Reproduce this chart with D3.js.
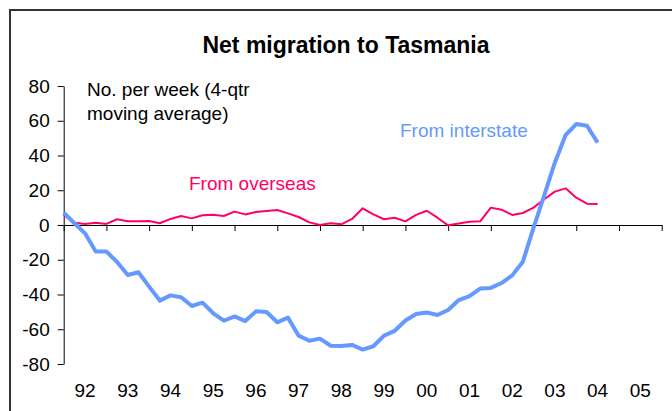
<!DOCTYPE html>
<html>
<head>
<meta charset="utf-8">
<script src="https://cdn.jsdelivr.net/npm/d3@7"></script>
<style>
  html, body { margin: 0; padding: 0; background: #fff; }
  svg { display: block; font-family: "Liberation Sans", Arial, sans-serif; }
</style>
</head>
<body>
<svg id="chart" width="672" height="411"></svg>
<script>
// ---- Data (quarterly, 4-qtr moving average, starting 1992 Q1) ----
const startYear = 1992;
const interstate = [
  7.1, 1.0, -4.8, -15.3, -15.3, -21.3, -28.8, -27.2, -35.5, -43.5,
  -40.5, -41.6, -46.6, -44.7, -50.8, -55.1, -52.6, -55.3, -49.7, -50.1,
  -56.0, -53.3, -63.7, -66.6, -65.4, -69.5, -69.7, -69.0, -71.7, -69.8,
  -63.7, -60.9, -55.0, -51.2, -50.4, -51.8, -48.9, -43.2, -40.9, -36.6,
  -36.2, -33.4, -29.0, -21.1, -1.5, 17.0, 36.0, 51.8, 58.1, 57.1, 47.4
];
const overseas = [
  5.8, 1.3, 0.6, 1.3, 0.6, 3.3, 2.1, 2.1, 2.3, 1.0,
  3.5, 5.2, 3.8, 5.6, 5.9, 5.2, 7.7, 6.1, 7.5, 8.1,
  8.6, 6.7, 4.6, 1.5, 0.0, 1.0, 0.4, 3.5, 9.6, 6.1,
  3.3, 4.2, 2.1, 5.8, 8.2, 4.2, -0.2, 0.8, 1.9, 2.1,
  10.0, 8.8, 5.8, 6.9, 10.0, 14.8, 19.2, 21.1, 15.7, 12.3, 12.1
];
const yTicks = [80, 60, 40, 20, 0, -20, -40, -60, -80];
const yearLabels = ["92","93","94","95","96","97","98","99","00","01","02","03","04","05"];
const title = "Net migration to Tasmania";
const unitLines = ["No. per week (4-qtr", "moving average)"];
const seriesNames = ["From interstate", "From overseas"];

// ---- Layout ----
const svg = d3.select("#chart");
const mLeft = 63.7, mRight = 661.7, mTop = 86, mBottom = 364;
const blue = "#6699FF", red = "#FF0066";
const fs = 19;

const x = d3.scaleLinear().domain([startYear, startYear + yearLabels.length]).range([mLeft, mRight]);
const y = d3.scaleLinear().domain([-80, 80]).range([mBottom, mTop]);

// Frame
svg.append("rect").attr("x", 10).attr("y", 10).attr("width", 700).attr("height", 450)
  .attr("fill", "none").attr("stroke", "#333").attr("stroke-width", 2);

// Title
svg.append("text").attr("x", 346).attr("y", 53).attr("text-anchor", "middle")
  .attr("font-size", 23).attr("font-weight", "bold").attr("fill", "#000").text(title);

// Y axis
const yAxis = d3.axisLeft(y).tickValues(yTicks).tickSize(6).tickSizeOuter(0).tickPadding(8)
  .tickFormat(d => String(d));
const gy = svg.append("g").attr("transform", `translate(${mLeft},0)`).call(yAxis);
gy.selectAll("text").attr("font-size", fs).attr("font-family", "Liberation Sans, Arial, sans-serif").attr("fill", "#000");
gy.selectAll("line, path").attr("stroke", "#000");

// X axis at zero
const yearTicks = d3.range(startYear, startYear + yearLabels.length + 1);
const xAxis = d3.axisBottom(x).tickValues(yearTicks).tickSize(6).tickSizeOuter(0).tickFormat("");
const gx = svg.append("g").attr("transform", `translate(0,${y(0)})`).call(xAxis);
gx.selectAll("line, path").attr("stroke", "#000");

// Year labels at bottom
svg.append("g").selectAll("text").data(yearLabels).join("text")
  .attr("x", (d, i) => x(startYear + i + 0.5))
  .attr("y", 397)
  .attr("text-anchor", "middle").attr("font-size", fs).attr("fill", "#000")
  .text(d => d);

// Lines
const t = i => startYear + i / 4;
const line = d3.line().x((d, i) => x(t(i))).y(d => y(d));
svg.append("path").datum(overseas).attr("d", line).attr("fill", "none")
  .attr("stroke", red).attr("stroke-width", 2).attr("stroke-linejoin", "round");
svg.append("path").datum(interstate).attr("d", line).attr("fill", "none")
  .attr("stroke", blue).attr("stroke-width", 4).attr("stroke-linejoin", "round");

// Annotations
svg.append("text").attr("x", 87).attr("y", 96).attr("font-size", fs).attr("fill", "#000").text(unitLines[0]);
svg.append("text").attr("x", 87).attr("y", 120).attr("font-size", fs).attr("fill", "#000").text(unitLines[1]);
svg.append("text").attr("x", 400).attr("y", 137).attr("font-size", fs).attr("fill", blue).text(seriesNames[0]);
svg.append("text").attr("x", 189).attr("y", 190).attr("font-size", fs).attr("fill", red).text(seriesNames[1]);
</script>
</body>
</html>
